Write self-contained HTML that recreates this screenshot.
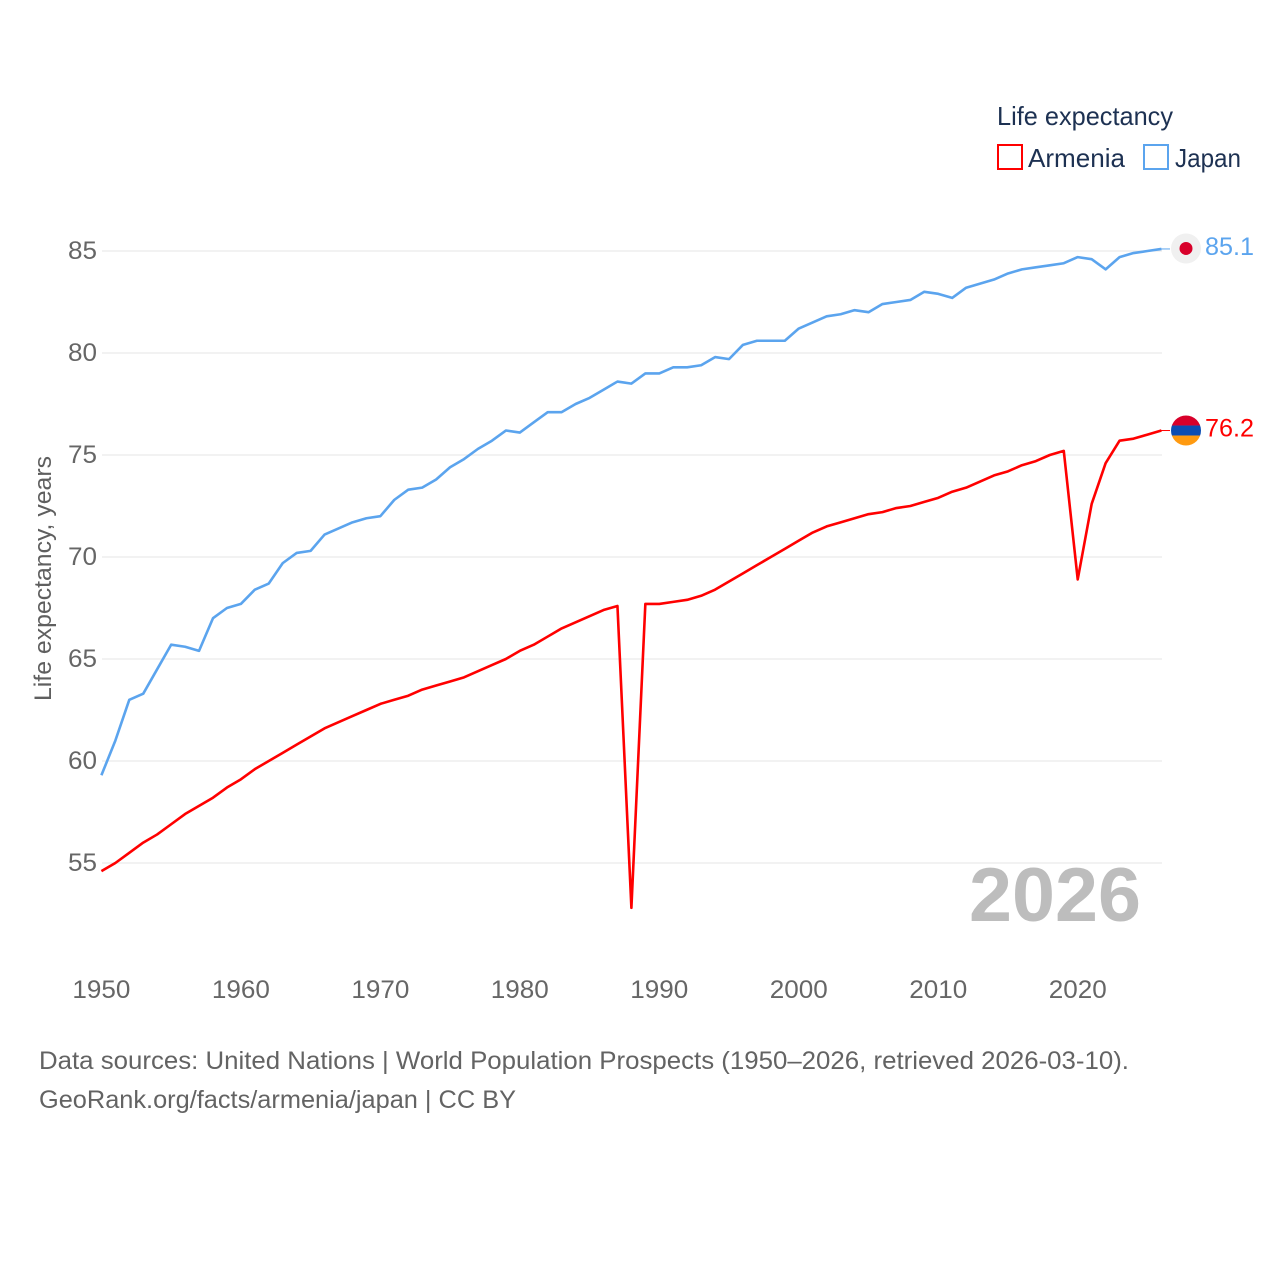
<!DOCTYPE html>
<html lang="en">
<head>
<meta charset="utf-8">
<title>Life expectancy: Armenia and Japan</title>
<style>
html,body{margin:0;padding:0;background:#fff;}
svg{display:block;font-family:"Liberation Sans",sans-serif;}
</style>
</head>
<body>
<svg id="chart" width="1280" height="1280" viewBox="0 0 1280 1280" xmlns="http://www.w3.org/2000/svg">
  <g id="grid"></g>
  <g id="yticks"></g>
  <g id="xticks"></g>
  <text x="1055" y="921" font-size="76" font-weight="bold" fill="#bdbdbd" text-anchor="middle" textLength="172" lengthAdjust="spacingAndGlyphs">2026</text>
  <text transform="translate(51,701) rotate(-90)" font-size="24" fill="#5f5f5f" textLength="245" lengthAdjust="spacingAndGlyphs">Life expectancy, years</text>
  <g id="series"></g>
  <g id="endmarks"></g>
  <g>
    <text x="997" y="125" font-size="26" fill="#1d3152" textLength="176" lengthAdjust="spacingAndGlyphs">Life expectancy</text>
    <rect x="998" y="145" width="24" height="24" fill="none" stroke="#ff0000" stroke-width="2"/>
    <text x="1028" y="167" font-size="26" fill="#1d3152" textLength="97" lengthAdjust="spacingAndGlyphs">Armenia</text>
    <rect x="1144" y="145" width="24" height="24" fill="none" stroke="#5ba4ee" stroke-width="2"/>
    <text x="1175" y="167" font-size="26" fill="#1d3152" textLength="66" lengthAdjust="spacingAndGlyphs">Japan</text>
  </g>
  <text x="39" y="1069" font-size="25" fill="#636363" textLength="1090" lengthAdjust="spacingAndGlyphs">Data sources: United Nations | World Population Prospects (1950–2026, retrieved 2026-03-10).</text>
  <text x="39" y="1108" font-size="25" fill="#636363" textLength="477" lengthAdjust="spacingAndGlyphs">GeoRank.org/facts/armenia/japan | CC BY</text>
</svg>
<script>
var years = [1950,1951,1952,1953,1954,1955,1956,1957,1958,1959,1960,1961,1962,1963,1964,1965,1966,1967,1968,1969,1970,1971,1972,1973,1974,1975,1976,1977,1978,1979,1980,1981,1982,1983,1984,1985,1986,1987,1988,1989,1990,1991,1992,1993,1994,1995,1996,1997,1998,1999,2000,2001,2002,2003,2004,2005,2006,2007,2008,2009,2010,2011,2012,2013,2014,2015,2016,2017,2018,2019,2020,2021,2022,2023,2024,2025,2026];
var japanValues = [59.3,61.0,63.0,63.3,64.5,65.7,65.6,65.4,67.0,67.5,67.7,68.4,68.7,69.7,70.2,70.3,71.1,71.4,71.7,71.9,72.0,72.8,73.3,73.4,73.8,74.4,74.8,75.3,75.7,76.2,76.1,76.6,77.1,77.1,77.5,77.8,78.2,78.6,78.5,79.0,79.0,79.3,79.3,79.4,79.8,79.7,80.4,80.6,80.6,80.6,81.2,81.5,81.8,81.9,82.1,82.0,82.4,82.5,82.6,83.0,82.9,82.7,83.2,83.4,83.6,83.9,84.1,84.2,84.3,84.4,84.7,84.6,84.1,84.7,84.9,85.0,85.1];
var armeniaValues = [54.6,55.0,55.5,56.0,56.4,56.9,57.4,57.8,58.2,58.7,59.1,59.6,60.0,60.4,60.8,61.2,61.6,61.9,62.2,62.5,62.8,63.0,63.2,63.5,63.7,63.9,64.1,64.4,64.7,65.0,65.4,65.7,66.1,66.5,66.8,67.1,67.4,67.6,52.8,67.7,67.7,67.8,67.9,68.1,68.4,68.8,69.2,69.6,70.0,70.4,70.8,71.2,71.5,71.7,71.9,72.1,72.2,72.4,72.5,72.7,72.9,73.2,73.4,73.7,74.0,74.2,74.5,74.7,75.0,75.2,68.9,72.6,74.6,75.7,75.8,76.0,76.2];
var yTickValues = [55,60,65,70,75,80,85];
var xTickValues = [1950,1960,1970,1980,1990,2000,2010,2020];

var NS = 'http://www.w3.org/2000/svg';
function xScale(year) { return 101.4 + (year - 1950) * (1161.4 - 101.4) / 76; }
function yScale(value) { return 863 - (value - 55) * 20.4; }
function make(tag, attrs, parent) {
  var el = document.createElementNS(NS, tag);
  for (var k in attrs) { el.setAttribute(k, attrs[k]); }
  parent.appendChild(el);
  return el;
}

var gridLayer = document.getElementById('grid');
var yLayer = document.getElementById('yticks');
yTickValues.forEach(function (v) {
  var line = make('line', {x1: 102, x2: 1162, y1: yScale(v), y2: yScale(v), stroke: '#e9e9e9', 'stroke-width': 1.2}, gridLayer);
  
  
  var label = make('text', {x: 97, y: yScale(v) + 8, 'text-anchor': 'end', 'font-size': 25, fill: '#666666', textLength: 29, lengthAdjust: 'spacingAndGlyphs'}, yLayer);
  
  
  label.textContent = String(v);
});

var xLayer = document.getElementById('xticks');
xTickValues.forEach(function (t) {
  var label = make('text', {x: xScale(t), y: 998, 'text-anchor': 'middle', 'font-size': 25, fill: '#666666', textLength: 58, lengthAdjust: 'spacingAndGlyphs'}, xLayer);
  
  
  label.textContent = String(t);
});

function pathFor(values) {
  return values.map(function (v, i) {
    return (i ? 'L' : 'M') + xScale(years[i]).toFixed(2) + ' ' + yScale(v).toFixed(2);
  }).join(' ');
}
var seriesLayer = document.getElementById('series');
var japanLine = make('path', {d: pathFor(japanValues), fill: 'none', stroke: '#5ba4ee', 'stroke-width': 2.6, 'stroke-linejoin': 'round'}, seriesLayer);


var armeniaLine = make('path', {d: pathFor(armeniaValues), fill: 'none', stroke: '#ff0000', 'stroke-width': 2.6, 'stroke-linejoin': 'round'}, seriesLayer);



var endLayer = document.getElementById('endmarks');
var lastJapan = japanValues[japanValues.length - 1];
var lastArmenia = armeniaValues[armeniaValues.length - 1];
var jy = yScale(lastJapan);
var ay = yScale(lastArmenia);

var jConnector = make('line', {x1: 1161, x2: 1170, y1: jy, y2: jy, stroke: '#5ba4ee', 'stroke-width': 1}, endLayer);


var aConnector = make('line', {x1: 1161, x2: 1170, y1: ay, y2: ay, stroke: '#ff0000', 'stroke-width': 1}, endLayer);



var jFlag = make('g', {transform: 'translate(1186,' + (jy - 0.5) + ')'}, endLayer);


make('circle', {r: 15, fill: '#f0f0f0'}, jFlag);
make('circle', {r: 6.5, fill: '#d8002a'}, jFlag);

var clip = make('clipPath', {id: 'flag-clip'}, endLayer);
make('circle', {r: 15}, clip);
var aFlag = make('g', {transform: 'translate(1186,' + ay + ')', 'clip-path': 'url(#flag-clip)'}, endLayer);


make('rect', {x: -15, y: -15, width: 30, height: 10, fill: '#d8002a'}, aFlag);
make('rect', {x: -15, y: -5, width: 30, height: 10, fill: '#0b4db3'}, aFlag);
make('rect', {x: -15, y: 5, width: 30, height: 10, fill: '#ff9a10'}, aFlag);

var jLabel = make('text', {x: 1205, y: jy + 6, 'font-size': 25, fill: '#5ba4ee', textLength: 49, lengthAdjust: 'spacingAndGlyphs'}, endLayer);


jLabel.textContent = lastJapan.toFixed(1);
var aLabel = make('text', {x: 1205, y: ay + 6, 'font-size': 25, fill: '#ff0000', textLength: 49, lengthAdjust: 'spacingAndGlyphs'}, endLayer);


aLabel.textContent = lastArmenia.toFixed(1);
</script>
</body>
</html>
